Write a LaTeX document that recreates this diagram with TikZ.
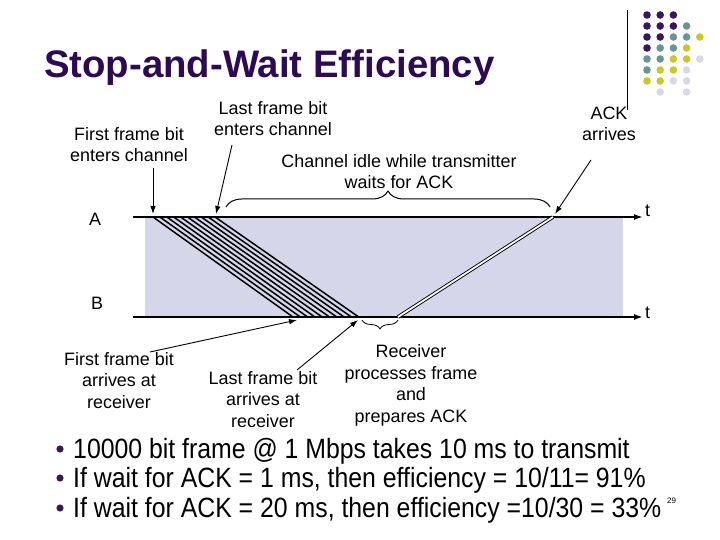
\documentclass[tikz,border=0pt]{standalone}
\usepackage{fontspec}
\setmainfont{Liberation Sans}
\newfontfamily\bulletfont[FakeStretch=0.89]{Liberation Sans}
\usetikzlibrary{arrows.meta,decorations.pathreplacing,positioning}
\definecolor{titlepurple}{RGB}{46,10,85}
\definecolor{chan}{RGB}{214,214,235}
\definecolor{dotP}{RGB}{58,22,92}
\definecolor{dotT}{RGB}{104,150,150}
\definecolor{dotY}{RGB}{200,200,40}
\definecolor{dotL}{RGB}{216,216,232}
\begin{document}
\begin{tikzpicture}[x=1bp, y=-1bp, line join=round,
    lbl/.style={font=\fontsize{18}{21.5}\selectfont, align=center, anchor=base, inner sep=0pt},
    axis/.style={line width=1.6bp, -{Latex[length=9bp,width=6bp]}},
    pointer/.style={line width=0.9bp, -{Latex[length=8bp,width=5.5bp]}},
    frameline/.style={line width=1.5bp},
    bul/.style={font=\bulletfont\fontsize{28}{30}\selectfont, anchor=base west, inner sep=0pt}]
  \useasboundingbox (0,0) rectangle (720,540);

  % title and corner decoration
  \node[font=\fontsize{38.5}{40}\selectfont\bfseries, text=titlepurple, anchor=base west, inner sep=0pt] (title) at (44,78) {Stop-and-Wait Efficiency};
  \draw[line width=1bp] (627,10) -- (627,110);
  \foreach \r/\row in {1/{P,P,P}, 2/{P,P,P,T}, 3/{P,P,T,T,Y}, 4/{P,T,T,Y}, 5/{T,T,Y,Y,L}, 6/{T,Y,Y,L}, 7/{Y,Y,L,L}}
    \foreach \k [count=\c] in \row
      \fill[dot\k] ({647+13.2*(\c-1)},{15+11*(\r-1)}) circle (3.8bp);
  \foreach \c in {2,4}
    \fill[dotL] ({647+13.2*(\c-1)},92) circle (3.8bp);

  % channel
  \fill[chan] (145,217) rectangle (623,317);
  \coordinate (A0) at (133,217);
  \coordinate (A1) at (643,217);
  \coordinate (B0) at (133,317);
  \coordinate (B1) at (643,317);
  \draw[axis] (A0) -- (A1);
  \draw[axis] (B0) -- (B1);
  \node[lbl] (A) at (95,226) {A};
  \node[lbl] (B) at (97,309) {B};
  \node[lbl, anchor=base west] (tA) at (645,217) {t};
  \node[lbl, anchor=base west] (tB) at (645,318) {t};

  % frame and ACK
  \foreach \i in {0,...,9}
    \draw[frameline] ({153+6.9*\i},217) -- ({293+7.3*\i},317);
  \coordinate (ackB) at (398,317);
  \coordinate (ackA) at (553,217);
  \draw[line width=0.9bp, double, double distance=1.8bp] (ackB) -- (ackA);

  % braces
  \draw[line width=1bp, decorate, decoration={brace, amplitude=16bp}] (226,207) -- (550,207);
  \draw[line width=0.8bp, decorate, decoration={brace, amplitude=9bp, mirror}] (362,320) -- (398,320);

  % labels (base = last line)
  \node[lbl] (fenter) at (129,162) {First frame bit\\enters channel};
  \node[lbl] (lenter) at (273,136) {Last frame bit\\enters channel};
  \node[lbl] (idle) at (399,189) {Channel idle while transmitter\\waits for ACK};
  \node[lbl] (ackarr) at (609,141) {ACK\\arrives};
  \node[lbl] (farrive) at (119,408) {First frame bit\\arrives at\\receiver};
  \node[lbl] (larrive) at (263,427) {Last frame bit\\arrives at\\receiver};
  \node[lbl] (proc) at (411,422) {Receiver\\processes frame\\and\\prepares ACK};

  \coordinate (p1) at (153,168);  \coordinate (q1) at (153,214);
  \coordinate (p2) at (232,145);  \coordinate (q2) at (216,214);
  \coordinate (p3) at (591,160);  \coordinate (q3) at (555,214);
  \coordinate (p4) at (150,352);  \coordinate (q4) at (297,320);
  \coordinate (p5) at (297,370);  \coordinate (q5) at (358,320);
  \foreach \s/\e in {p1/q1, p2/q2, p3/q3, p4/q4, p5/q5}
    \draw[pointer] (\s) -- (\e);

  % bullet points
  \foreach \y/\txt [count=\n] in {458/{10000 bit frame @ 1 Mbps takes 10 ms to transmit},
      487/{If wait for ACK = 1 ms, then efficiency = 10/11= 91\%},
      517/{If wait for ACK = 20 ms, then efficiency =10/30 = 33\%}} {
    \fill[dotP] (60,\y-9) circle (3.6bp);
    \node[bul] (item\n) at (73,\y) {\txt};
  }
  \node[font=\fontsize{8}{9}\selectfont, anchor=base west, inner sep=0pt] (pageno) at (667,503) {29};
\end{tikzpicture}
\end{document}
